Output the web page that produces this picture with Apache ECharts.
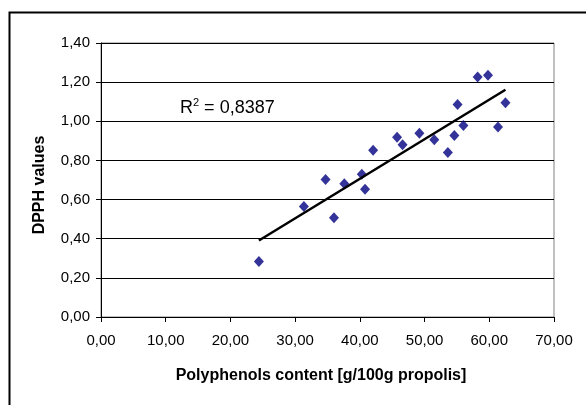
<!DOCTYPE html>
<html>
<head>
<meta charset="utf-8">
<script src="https://cdn.jsdelivr.net/npm/echarts@6/dist/echarts.min.js"></script>
<style>
html,body{margin:0;padding:0;background:#fff;}
#c{width:586px;height:405px;}
</style>
</head>
<body>
<div id="c"></div>
<script>
// Data
const polyphenols = [24.4, 31.35, 34.7, 36.0, 37.6, 40.3, 40.8, 42.05, 45.75, 46.6, 49.2, 51.5, 53.6, 54.6, 55.1, 56.0, 58.2, 59.8, 61.35, 62.5];
const dpph = [0.284, 0.564, 0.702, 0.507, 0.681, 0.730, 0.653, 0.852, 0.918, 0.880, 0.939, 0.906, 0.841, 0.928, 1.086, 0.979, 1.226, 1.235, 0.971, 1.095];
const trendX = [24.4, 62.5];
const trendY = [0.391, 1.161];
const xRange = [0, 70, 10];
const yRange = [0, 1.4, 0.2];
const xTitle = 'Polyphenols content [g/100g propolis]';
const yTitle = 'DPPH values';
const r2Text = '0,8387';

const fmt = v => v.toFixed(2).replace('.', ',');
const font = '"Liberation Sans", Arial, sans-serif';

const chart = echarts.init(document.getElementById('c'), null, {renderer: 'canvas'});
chart.setOption({
  animation: false,
  backgroundColor: '#fff',
  grid: {left: 101, right: 32, top: 43, bottom: 88, show: true, borderColor: '#808080', borderWidth: 1, backgroundColor: 'transparent'},
  xAxis: {
    type: 'value', min: xRange[0], max: xRange[1], interval: xRange[2],
    axisLine: {show: true, onZero: false, lineStyle: {color: '#000', width: 1}},
    axisTick: {show: true, length: 5, lineStyle: {color: '#000'}},
    axisLabel: {formatter: fmt, color: '#000', fontFamily: font, fontSize: 15, margin: 16},
    splitLine: {show: false}
  },
  yAxis: {
    type: 'value', min: yRange[0], max: yRange[1], interval: yRange[2],
    axisLine: {show: true, onZero: false, lineStyle: {color: '#000', width: 1}},
    axisTick: {show: true, length: 5, lineStyle: {color: '#000'}},
    axisLabel: {formatter: fmt, color: '#000', fontFamily: font, fontSize: 15, margin: 11},
    splitLine: {show: true, lineStyle: {color: '#000', width: 1}}
  },
  series: [
    {
      type: 'scatter',
      data: polyphenols.map((x, i) => [x, dpph[i]]),
      symbol: 'diamond',
      symbolSize: [10, 11],
      itemStyle: {color: '#000080'},
      z: 3
    },
    {
      type: 'line',
      data: trendX.map((x, i) => [x, trendY[i]]),
      symbol: 'none',
      lineStyle: {color: '#000', width: 2.5},
      z: 4
    }
  ],
  graphic: [
    {type: 'rect', shape: {x: 9.5, y: 12.5, width: 620, height: 430}, style: {fill: 'none', stroke: '#000', lineWidth: 2}, z: 10},
    {type: 'text', x: 321, y: 376, style: {text: xTitle, font: 'bold 16px ' + font, fill: '#000', textAlign: 'center', textVerticalAlign: 'middle'}},
    {type: 'text', x: 40, y: 185, rotation: Math.PI / 2, style: {text: yTitle, font: 'bold 16px ' + font, fill: '#000', textAlign: 'center', textVerticalAlign: 'middle'}},
    {type: 'text', x: 180, y: 108, style: {
      rich: {
        n: {fontSize: 18, fontFamily: font, fill: '#000'},
        s: {fontSize: 11, fontFamily: font, fill: '#000', verticalAlign: 'top', padding: [0, 0, 10, 0]}
      },
      text: '{n|R}{s|2}{n| = ' + r2Text + '}',
      textVerticalAlign: 'middle'
    }}
  ]
});
</script>
</body>
</html>
